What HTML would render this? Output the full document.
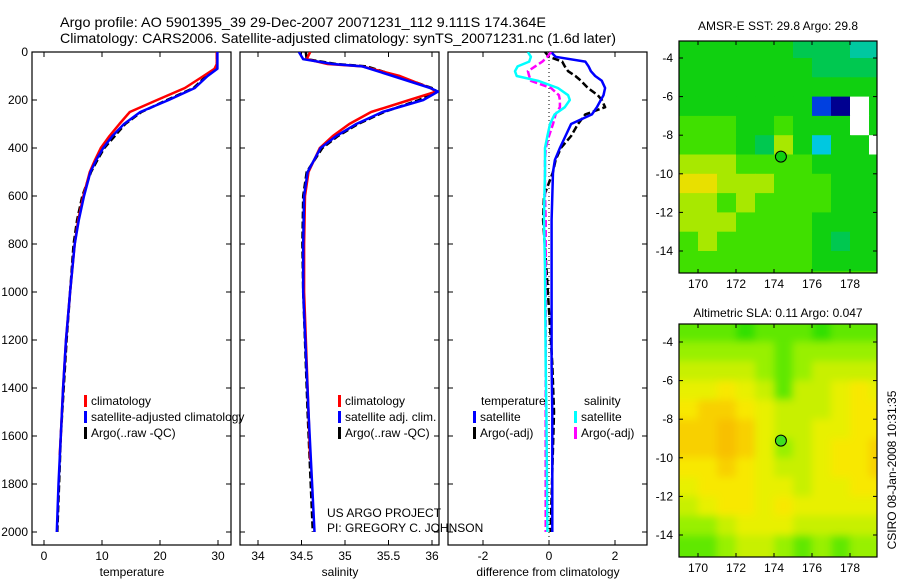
<!DOCTYPE html>
<html><head><meta charset="utf-8"><style>
html,body{margin:0;padding:0;background:#fff;}
svg{display:block;font-family:"Liberation Sans",sans-serif;}
</style></head><body>
<svg id="fig" width="900" height="580" viewBox="0 0 900 580">
<defs>
<clipPath id="c1"><rect x="32" y="52" width="199" height="493"/></clipPath>
<clipPath id="c2"><rect x="240" y="52" width="199" height="493"/></clipPath>
<clipPath id="c3"><rect x="448" y="52" width="200" height="493"/></clipPath>
<clipPath id="cm1"><rect x="679" y="41" width="198" height="232"/></clipPath>
<clipPath id="cm2"><rect x="679" y="324" width="198" height="233"/></clipPath>
<filter id="blur" x="0" y="0" width="1" height="1"><feGaussianBlur stdDeviation="4"/></filter>
</defs>
<text x="60" y="27" font-size="14" textLength="486" lengthAdjust="spacingAndGlyphs">Argo profile: AO 5901395_39 29-Dec-2007 20071231_112 9.111S 174.364E</text>
<text x="60" y="43" font-size="14" textLength="556" lengthAdjust="spacingAndGlyphs">Climatology: CARS2006. Satellite-adjusted climatology: synTS_20071231.nc (1.6d later)</text>
<g id="g1"></g>
<g id="g2"></g>
<g id="g3"></g>
<g id="m1"></g>
<g id="m2"></g>
<text x="778" y="30" font-size="12" text-anchor="middle">AMSR-E SST: 29.8 Argo: 29.8</text>
<text x="778" y="317" font-size="12" text-anchor="middle">Altimetric SLA: 0.11 Argo: 0.047</text>
<text transform="translate(896,470) rotate(-90)" font-size="12" text-anchor="middle">CSIRO 08-Jan-2008 10:31:35</text>
<text x="327" y="517" font-size="12">US ARGO PROJECT</text>
<text x="327" y="532" font-size="12">PI: GREGORY C. JOHNSON</text>
</svg>
<script>
// ---- profile data (depth in m) ----
const tClimDepth=[0,50,70,100,150,200,250,300,350,400,450,500,600,700,800,1000,1200,1400,1600,1680];
const tClim=[29.8,29.8,29.4,27.5,24.3,19.5,14.8,13.0,11.3,9.8,8.8,7.9,6.8,5.9,5.3,4.5,3.8,3.3,2.9,2.7];
const tSatDepth=[0,70,100,150,200,250,300,350,400,450,500,600,700,800,1000,1200,1400,1600,1800,2000];
const tSat=[29.9,29.9,28.2,26.0,21.5,16.6,13.8,11.8,10.2,9.0,8.0,6.9,6.0,5.3,4.5,3.8,3.3,2.9,2.5,2.2];
const tArgo=[29.8,29.8,28.0,25.8,21.2,16.8,14.0,12.2,10.4,9.2,8.1,6.6,5.7,5.1,4.5,3.9,3.4,2.9,2.6,2.3];
const sClimDepth=[0,30,50,60,100,150,165,200,250,300,350,400,500,600,800,1000,1500,1700];
const sClim=[34.6,34.56,34.8,35.2,35.63,35.98,36.05,35.74,35.3,35.05,34.86,34.71,34.58,34.54,34.53,34.53,34.58,34.6];
const sSatDepth=[0,30,50,60,100,150,165,200,250,300,350,400,500,600,800,1000,1500,2000];
const sSat=[34.47,34.52,34.86,35.2,35.55,35.98,36.07,35.9,35.43,35.13,34.9,34.72,34.57,34.53,34.52,34.52,34.58,34.65];
const sArgo=[34.55,34.56,34.9,35.25,35.6,36.0,36.06,35.85,35.45,35.15,34.92,34.74,34.56,34.52,34.51,34.52,34.57,34.63];
const dDepth=[0,20,40,60,80,100,120,150,180,200,230,260,300,350,400,450,500,600,700,900,1300,1500,2000];
const dTempSat=[0.06,0.2,1.1,1.2,1.27,1.4,1.6,1.7,1.65,1.57,1.45,1.3,0.67,0.5,0.33,0.18,0.12,0.1,0.08,0.08,0.08,0.1,0.1];
const dSalSat=[-0.64,-0.55,-0.6,-0.95,-1.03,-0.98,-0.33,0.27,0.58,0.63,0.48,0.17,0.03,-0.05,-0.12,-0.12,-0.12,-0.14,-0.15,-0.12,-0.1,-0.08,-0.05];
const dTempArgo=[-0.12,0.0,0.4,0.48,0.58,0.8,0.97,1.18,1.48,1.6,1.7,1.1,0.88,0.67,0.36,0.2,0.12,-0.15,-0.18,-0.08,0.1,0.15,0.05];
const dSalArgo=[0.06,-0.05,-0.2,-0.42,-0.64,-0.6,-0.55,0.06,0.3,0.33,0.33,0.2,0.12,0.0,-0.1,-0.12,-0.12,-0.12,-0.1,-0.1,-0.1,-0.1,-0.1];
const depthTicks=[0,200,400,600,800,1000,1200,1400,1600,1800,2000];
const tTicks=[0,10,20,30];
const sTicks=[34,34.5,35,35.5,36];
const dTicks=[-2,0,2];
// ---- map data ----
const mapLonTicks=[170,172,174,176,178];
const mapLatTicks=[-4,-6,-8,-10,-12,-14];
const mapLon0=169; // cell west edges: 169..179
const mapLat0=-3;  // row north edges: -3..-14
const sstGrid=[
[5,5,5,5,5,5,4,4,4,3,3],
[5,5,5,5,5,5,5,4,4,4,4],
[5,5,5,5,5,5,5,5,5,5,5],
[5,5,5,5,5,5,5,1,0,-1,5],
[6,6,6,5,5,6,5,5,5,-1,5],
[6,6,6,5,4,7,5,2,5,5,-1],
[7,7,7,6,6,6,6,5,5,5,5],
[8,8,7,7,7,6,6,6,5,5,5],
[7,7,6,7,6,6,6,6,5,5,5],
[7,7,7,6,6,6,6,5,5,5,5],
[6,7,6,6,6,6,6,5,4,5,5],
[6,6,6,6,6,6,6,5,5,5,5]];
const slaGrid=[
[2,2,2,1,2,2,2,1,2,2,2],
[3,3,3,3,3,2,3,3,3,3,3],
[4,4,4,4,3,2,3,4,4,4,4],
[5,5,6,5,4,2,4,4,5,6,5],
[6,7,7,6,5,4,4,4,5,6,6],
[7,7,8,7,5,4,4,5,5,6,6],
[7,7,8,7,5,3,4,5,6,6,7],
[6,6,7,6,5,4,4,5,6,6,7],
[5,6,6,6,5,5,4,5,5,6,6],
[4,5,6,6,5,6,5,5,5,5,5],
[3,3,4,5,5,5,4,4,4,4,4],
[2,2,3,4,4,3,2,3,2,3,3]];
const floatLon=174.364, floatLat=-9.111;

const NS='http://www.w3.org/2000/svg';
function mk(tag,attrs,parent){const e=document.createElementNS(NS,tag);for(const k in attrs)e.setAttribute(k,attrs[k]);parent.appendChild(e);return e;}
const yD=d=>52+d*0.24;
function lin(v0,p0,v1,p1){return v=>p0+(v-v0)*(p1-p0)/(v1-v0);}
const xT=lin(0,44,30,218), xS=lin(34,258,36,432), xDf=lin(0,549,2,615);

function panel(g,x0,xs,ticks,label,labelName,leftLabels){
  const bot=545;
  const frame=mk('rect',{x:x0,y:52,width:199,height:493,fill:'none',stroke:'#000','stroke-width':1.2},g);
  
  ticks.forEach(t=>{const x=xs(t);
    mk('line',{x1:x,x2:x,y1:bot,y2:bot-5,stroke:'#000'},g);
    mk('line',{x1:x,x2:x,y1:52,y2:57,stroke:'#000'},g);
    const tx=mk('text',{x:x,y:bot+15,'font-size':12,'text-anchor':'middle'},g);tx.textContent=t;
    });
  depthTicks.forEach(d=>{const y=yD(d);
    mk('line',{x1:x0,x2:x0+5,y1:y,y2:y,stroke:'#000'},g);
    mk('line',{x1:x0+199,x2:x0+194,y1:y,y2:y,stroke:'#000'},g);
    if(leftLabels){const tx=mk('text',{x:x0-4,y:y+4,'font-size':12,'text-anchor':'end'},g);tx.textContent=d;
      }});
  const lt=mk('text',{x:x0+100,y:bot+31,'font-size':12,'text-anchor':'middle'},g);lt.textContent=label;
  
}
function series(g,clip,depths,vals,xs,color,dash,name){
  const pts=depths.map((d,i)=>xs(vals[i]).toFixed(1)+','+yD(d).toFixed(1)).join(' ');
  const a={points:pts,fill:'none',stroke:color,'stroke-width':2.5,'clip-path':'url(#'+clip+')','stroke-linejoin':'round'};
  if(dash)a['stroke-dasharray']=dash;
  const p=mk('polyline',a,g);
  
  
}
function legend(g,x,y,items){items.forEach((it,i)=>{
  mk('rect',{x:x,y:y+i*16-10,width:3,height:12,fill:it[0]},g);
  const t=mk('text',{x:x+7,y:y+i*16,'font-size':12},g);t.textContent=it[1];
  });}

const g1=document.getElementById('g1'),g2=document.getElementById('g2'),g3=document.getElementById('g3');
panel(g1,32,xT,tTicks,'temperature','x-axis-title-temperature',true);
panel(g2,240,xS,sTicks,'salinity','x-axis-title-salinity',false);
panel(g3,448,xDf,dTicks,'difference from climatology','x-axis-title-difference',false);
series(g1,'c1',tSatDepth,tArgo,xT,'#000','7 3','temp-argo-line');
series(g1,'c1',tClimDepth,tClim,xT,'#f00',null,'temp-climatology-line');
series(g1,'c1',tSatDepth,tSat,xT,'#00f',null,'temp-satellite-line');
series(g2,'c2',sSatDepth,sArgo,xS,'#000','7 3','sal-argo-line');
series(g2,'c2',sClimDepth,sClim,xS,'#f00',null,'sal-climatology-line');
series(g2,'c2',sSatDepth,sSat,xS,'#00f',null,'sal-satellite-line');
const zl=mk('line',{x1:xDf(0),x2:xDf(0),y1:52,y2:545,stroke:'#000','stroke-dasharray':'1 3'},g3);

series(g3,'c3',dDepth,dTempArgo,xDf,'#000','7 3','diff-temp-argo-line');
series(g3,'c3',dDepth,dTempSat,xDf,'#00f',null,'diff-temp-satellite-line');
series(g3,'c3',dDepth,dSalArgo,xDf,'#f0f','7 3','diff-sal-argo-line');
series(g3,'c3',dDepth,dSalSat,xDf,'#0ff',null,'diff-sal-satellite-line');
legend(g1,84,405,[['#f00','climatology'],['#00f','satellite-adjusted climatology'],['#000','Argo(..raw -QC)']]);
legend(g2,338,405,[['#f00','climatology'],['#00f','satellite adj. clim.'],['#000','Argo(..raw -QC)']]);
const th=mk('text',{x:481,y:405,'font-size':12},g3);th.textContent='temperature';

const sh=mk('text',{x:584,y:405,'font-size':12},g3);sh.textContent='salinity';

legend(g3,473,421,[['#00f','satellite'],['#000','Argo(-adj)']]);
legend(g3,574,421,[['#0ff','satellite'],['#f0f','Argo(-adj)']]);

// ---- maps ----
const sstColors={'-1':'#ffffff',0:'#000090',1:'#0040e0',2:'#00c8e0',3:'#00c8a0',4:'#00c850',5:'#10d010',6:'#40e000',7:'#a8e800',8:'#e8e000'};
const slaColors=['#00d000','#30e000','#60e800','#98f000','#c8f000','#e8f000','#f8e800','#f8d000','#f8c000'];
function map(g,clip,y0,h,latTop,pxPerLat,grid,colors,blur,dotFill){
  const x0=679,w=198;
  const xL=lin(170,698,178,850);
  const yL=lin(-4,latTop,-14,latTop+10*pxPerLat);
  const cg=mk('g',{'clip-path':'url(#'+clip+')'},g);
  const cells=mk('g',blur?{filter:'url(#blur)'}:{},cg);
  mk('rect',{x:x0,y:y0,width:w,height:h,fill:colors[grid[6][5]]},cells);
  grid.forEach((row,r)=>row.forEach((v,c)=>{
    const xa=xL(mapLon0+c),xb=xL(mapLon0+c+1),ya=yL(mapLat0-r),yb=yL(mapLat0-r-1);
    const pad=blur?12:0;
    const rx=mk('rect',{x:xa-(c===0?pad:0),y:ya-(r===0?pad:0),width:xb-xa+0.6+(c===0||c===row.length-1?pad:0),height:yb-ya+0.6+(r===0||r===grid.length-1?pad:0),fill:colors[v]},cells);
    
    
  }));
  const dot=mk('circle',{cx:xL(floatLon),cy:yL(floatLat),r:5.5,fill:dotFill,stroke:'#000','stroke-width':1},cg);
  
  const fr=mk('rect',{x:x0,y:y0,width:w,height:h,fill:'none',stroke:'#000','stroke-width':1.2},g);
  
  mapLonTicks.forEach(l=>{const x=xL(l);
    mk('line',{x1:x,x2:x,y1:y0+h,y2:y0+h-4,stroke:'#000'},g);
    mk('line',{x1:x,x2:x,y1:y0,y2:y0+4,stroke:'#000'},g);
    const t=mk('text',{x:x,y:y0+h+15,'font-size':12,'text-anchor':'middle'},g);t.textContent=l;
    });
  mapLatTicks.forEach(l=>{const y=yL(l);
    mk('line',{x1:x0,x2:x0+4,y1:y,y2:y,stroke:'#000'},g);
    mk('line',{x1:x0+w,x2:x0+w-4,y1:y,y2:y,stroke:'#000'},g);
    const t=mk('text',{x:x0-6,y:y+4,'font-size':12,'text-anchor':'end'},g);t.textContent=l;
    });
}
map(document.getElementById('m1'),'cm1',41,232,58,19.3,sstGrid,sstColors,false,'#10d010');
map(document.getElementById('m2'),'cm2',324,233,342,19.3,slaGrid,slaColors,true,'#40e020');
</script>
</body></html>
